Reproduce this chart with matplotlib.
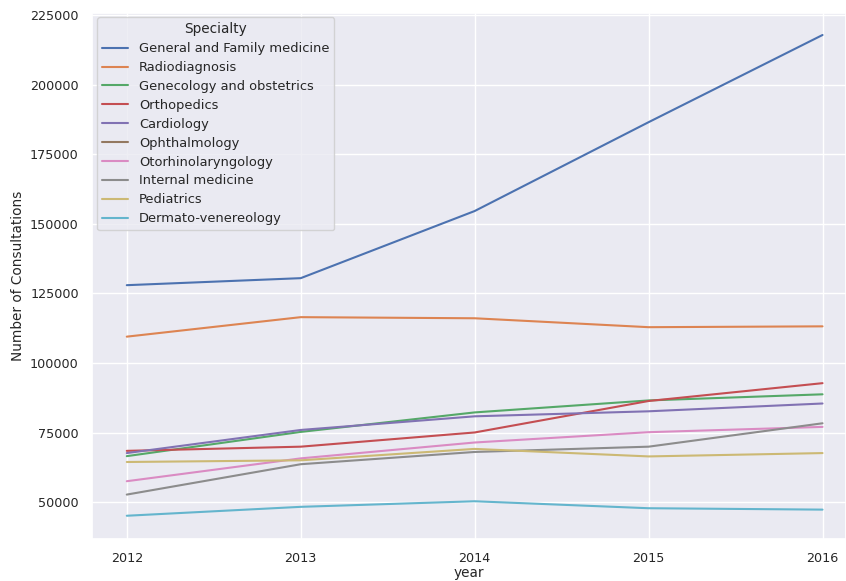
import numpy as np
import matplotlib
matplotlib.use('Agg')
import matplotlib.pyplot as plt
import seaborn as sns

# Consultations per specialty
years = [2012, 2013, 2014, 2015, 2016]
general_family = [127980, 130500, 154600, 186500, 217800]
radiodiagnosis = [109500, 116500, 116100, 112900, 113200]
gynecology = [66600, 75300, 82300, 86600, 88800]
orthopedics = [68500, 70000, 75100, 86400, 92800]
cardiology = [67700, 76000, 80900, 82700, 85500]
ophthalmology = [np.nan, np.nan, np.nan, np.nan, np.nan]  # not visible in the reference
otorhino = [57600, 65800, 71500, 75200, 77100]
internal_med = [52800, 63700, 68100, 70000, 78400]
pediatrics = [64500, 65100, 69200, 66500, 67700]
dermato = [45200, 48400, 50400, 47900, 47400]

specialties = ['General and Family medicine', 'Radiodiagnosis', 'Genecology and obstetrics',
               'Orthopedics', 'Cardiology', 'Ophthalmology', 'Otorhinolaryngology',
               'Internal medicine', 'Pediatrics', 'Dermato-venereology']
series = [general_family, radiodiagnosis, gynecology, orthopedics, cardiology,
          ophthalmology, otorhino, internal_med, pediatrics, dermato]

sns.set_theme(style='darkgrid')
plt.rcParams['font.family'] = ['DejaVu Sans']

fig = plt.figure(figsize=(8.46, 5.81), dpi=100)
ax = fig.add_axes([92 / 846, 1 - 538.7 / 581, (846 - 92) / 846, (538.7 - 13) / 581])

colors = sns.color_palette('deep', 10)
for name, vals, c in zip(specialties, series, colors):
    ax.plot(years, vals, color=c, label=name, linewidth=1.5)

ax.set_xlim(2011.8, 2016.135)
ax.set_ylim(36960, 225700)
ax.set_xticks(years)
ax.set_yticks([50000, 75000, 100000, 125000, 150000, 175000, 200000, 225000])
ax.tick_params(labelsize=9.2, colors='#262626')
ax.set_xlabel('year', fontsize=9.8, labelpad=1)
ax.set_ylabel('Number of Consultations', fontsize=9.8)

leg = ax.legend(title='Specialty', loc='upper left', fontsize=9.4, title_fontsize=9.8,
                frameon=True, labelspacing=0.45, borderaxespad=0,
                bbox_to_anchor=(0.0066, 0.992))

fig.savefig('out.png', dpi=100)
